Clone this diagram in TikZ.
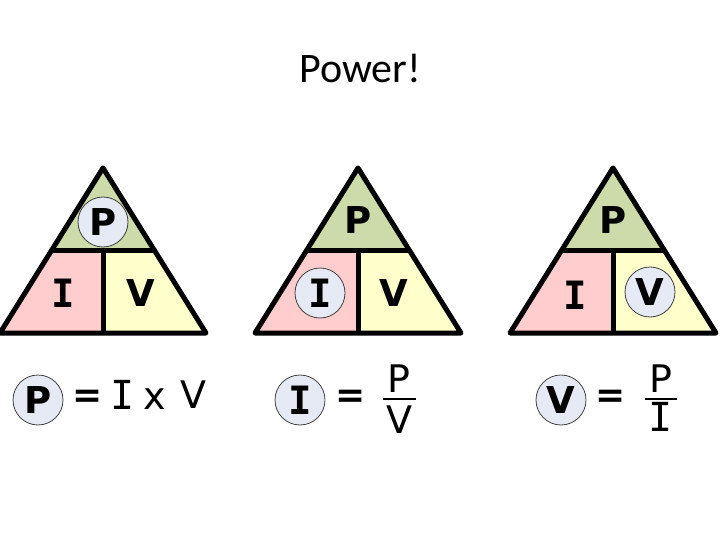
\documentclass[tikz,border=0pt]{standalone}
\usepackage{fontspec}
\setmainfont{Carlito}
\newfontfamily\vsans{DejaVu Sans}
\newfontfamily\vmono{DejaVu Sans Mono}
\definecolor{topgreen}{RGB}{205,219,170}
\definecolor{leftpink}{RGB}{255,205,205}
\definecolor{rightyellow}{RGB}{255,255,204}
\definecolor{ringfill}{RGB}{230,234,245}
\tikzstyle{tri} = [draw=black, line width=5pt, line join=round]
\tikzstyle{letter} = [inner sep=0pt, font={\vsans\bfseries\fontsize{37}{37}\selectfont}]
\tikzstyle{iletter} = [inner sep=0pt, font={\vmono\bfseries\fontsize{39}{39}\selectfont}]
\tikzstyle{ring} = [circle, draw=black!75, line width=0.8pt, fill=ringfill, minimum size=50pt, inner sep=0pt]
\tikzstyle{eqtext} = [inner sep=0pt, font={\vsans\fontsize{38}{38}\selectfont}]
\tikzstyle{eqi} = [inner sep=0pt, font={\vmono\fontsize{40}{40}\selectfont}]

\begin{document}
\begin{tikzpicture}[x=1pt, y=-1pt]
    \useasboundingbox (0,0) rectangle (720,540);
    \node[font={\fontsize{42}{42}\selectfont}](title) at (360,68){Power!};

    % P = I x V
    \begin{scope}[xshift=103pt]
    \fill[topgreen] (0,168) -- (-52,250) -- (52,250) -- cycle;
    \fill[leftpink] (-52,250) -- (-103,333) -- (0,333) -- (0,250) -- cycle;
    \fill[rightyellow] (0,250) -- (0,333) -- (103,333) -- (52,250) -- cycle;
    \draw[tri] (0,168) -- (-103,333) -- (103,333) -- cycle;
    \draw[tri] (-52,250) -- (52,250) (0,250) -- (0,333);
    \node[ring](ringP) at (0,222){};
    \node[letter](P1) at (0,222){P};
    \node[iletter](I1) at (-40,293){I};
    \node[letter](V1) at (38,293){V};
    \end{scope}
    \node[ring,letter,minimum size=50pt](eqP) at (38,400){P};
    \node[eqtext,font={\vsans\bfseries\fontsize{36}{36}\selectfont}](eq1) at (88,399){=};
    \node[eqi](eqI1) at (123,395){I};
    \node[eqtext](times) at (155,399){x};
    \node[eqtext](eqV1) at (193,395){V};

    % I = P / V
    \begin{scope}[xshift=358pt]
    \fill[topgreen] (0,168) -- (-52,250) -- (52,250) -- cycle;
    \fill[leftpink] (-52,250) -- (-103,333) -- (0,333) -- (0,250) -- cycle;
    \fill[rightyellow] (0,250) -- (0,333) -- (103,333) -- (52,250) -- cycle;
    \draw[tri] (0,168) -- (-103,333) -- (103,333) -- cycle;
    \draw[tri] (-52,250) -- (52,250) (0,250) -- (0,333);
    \node[letter](P2) at (0,220){P};
    \node[ring](ringI) at (-38,293){};
    \node[iletter](I2) at (-38,293){I};
    \node[letter](V2) at (36,293){V};
    \end{scope}
    \node[ring,iletter,minimum size=50pt](eqI) at (300,400){I};
    \node[eqtext,font={\vsans\bfseries\fontsize{36}{36}\selectfont}](eq2) at (351,399){=};
    \node[eqtext](num2) at (399,379){P};
    \node[eqtext](den2) at (399,420){V};
    \draw[line width=1.4pt] (383,399) -- (416,399);

    % V = P / I
    \begin{scope}[xshift=613pt]
    \fill[topgreen] (0,168) -- (-52,250) -- (52,250) -- cycle;
    \fill[leftpink] (-52,250) -- (-103,333) -- (0,333) -- (0,250) -- cycle;
    \fill[rightyellow] (0,250) -- (0,333) -- (103,333) -- (52,250) -- cycle;
    \draw[tri] (0,168) -- (-103,333) -- (103,333) -- cycle;
    \draw[tri] (-52,250) -- (52,250) (0,250) -- (0,333);
    \node[letter](P3) at (0,220){P};
    \node[iletter](I3) at (-38,295){I};
    \node[ring](ringV) at (37,292){};
    \node[letter](V3) at (37,292){V};
    \end{scope}
    \node[ring,letter,minimum size=50pt](eqV) at (561,400){V};
    \node[eqtext,font={\vsans\bfseries\fontsize{36}{36}\selectfont}](eq3) at (611,399){=};
    \node[eqtext](num3) at (661,379){P};
    \node[eqi](den3) at (661,417){I};
    \draw[line width=1.4pt] (645,399) -- (677,399);
  \end{tikzpicture}
\end{document}
